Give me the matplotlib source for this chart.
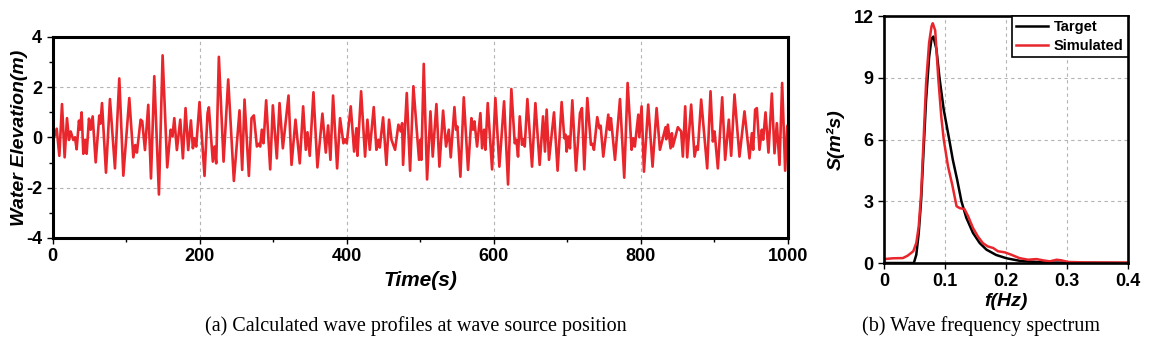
import matplotlib
matplotlib.use("Agg")
import matplotlib.pyplot as plt
from matplotlib.ticker import MultipleLocator

plt.rcParams["font.family"] = ["Liberation Sans", "DejaVu Sans"]
plt.rcParams["axes.unicode_minus"] = False

# (a) wave elevation at source, read as turning points of the trace
time_s = [
    0, 5.7, 9.3, 12.9, 16.5, 19.7, 22.4, 24.7, 28.3, 30.6, 32.8, 36.0, 37.4, 39.6, 41.9,
    44.6, 46.4, 49.6, 51.9, 54.6, 58.7, 63.6, 65.2, 67.3, 72.7, 78.1, 84.9, 90.8, 96.3,
    104.4, 109.9, 112.5, 114.8, 119.8, 122.0, 125.7, 130.2, 133.9, 138.4, 144.7, 149.7,
    156.0, 160.6, 163.1, 165.6,
    169.1, 173.7, 177.3, 180.9, 184.5, 188.2, 190.9, 192.7, 195.4, 199.9, 206.7, 210.8,
    212.6, 218.0, 220.3, 222.6, 226.2, 232.6, 238.9, 246.6, 254.3, 257.9, 261.1, 267.0,
    270.6, 273.8, 277.9, 280.6, 282.4, 284.6, 286.9, 290.5, 296.0, 299.6, 305.0, 308.7,
    313.2, 320.9, 325.0, 330.4,
    336.2, 340.8, 344.4, 346.7, 349.8, 354.8, 360.2, 367.0, 371.6, 374.7, 377.9, 381.5,
    387.0, 391.0, 395.6, 397.8, 400.1, 405.5, 410.1, 413.2, 414.6, 419.6, 425.0, 428.2,
    431.4, 436.8, 440.4, 443.1, 445.0, 449.5, 454.0, 457.6, 461.0, 465.8, 470.3, 473.5,
    475.4, 476.7, 481.7, 486.2, 490.7, 498.4,
    500.3, 501.6, 504.8, 509.3, 513.9, 517.0, 522.0, 526.1, 531.1, 535.1, 538.8, 541.5,
    546.5, 548.7, 550.5, 554.6, 559.2, 565.0, 569.6, 571.8, 573.7, 577.3, 581.8, 584.1,
    586.8, 588.6, 591.8, 597.7, 602.2, 607.6, 614.0, 619.4, 623.9, 628.5, 630.7, 633.0,
    635.3, 638.4, 640.2, 642.1, 645.7, 652.0, 656.6, 662.4, 667.0,
    669.6, 671.9, 675.1, 681.9, 686.8, 692.3, 695.9, 697.7, 699.1, 701.3, 703.6, 706.8,
    711.8, 717.2, 719.9, 723.1, 727.2, 732.1, 734.0, 736.2, 740.7, 743.5, 745.3, 748.9,
    755.7, 757.5, 759.3, 764.8, 771.6, 777.4, 782.0, 787.4, 789.6, 791.8, 796.5, 797.9,
    801.0, 804.2, 810.0, 815.9, 821.4, 825.9, 833.6,
    834.5, 836.7, 840.4, 842.2, 843.5, 850.3, 854.8, 857.1, 860.3, 863.0, 868.4, 873.0,
    875.7, 877.5, 882.0, 890.2, 894.7, 897.9, 900.2, 904.7, 910.6, 914.6, 919.6, 922.8,
    927.3, 934.1, 940.9, 947.7, 950.9, 952.7, 955.4, 957.7, 961.3, 964.5, 966.3, 969.5,
    973.5, 978.1, 981.7, 984.9, 988.5, 992.1, 996.2, 999.0, 1000,
]
elevation_m = [
    -0.2, 0.35, -0.73, 1.33, -0.79, 0.77, -0.1, 0.24, -0.1, 0.01, -0.47, 0.67, 0.31, 1.0, -0.65,
    -0.09, -0.65, 0.75, 0.31, 0.84, -0.99, 0.87, 0.55, 1.37, -1.4, 1.53, -1.23, 2.35, -1.52,
    1.57, -0.79, -0.3, -0.6, 0.71, 0.65, -0.5, 1.3, -1.63, 2.44, -2.27, 3.27,
    -1.19, 0.31, 0.04, 0.77,
    -0.5, 0.71, -0.83, 1.17, -0.5, 0.68, -0.43, -0.03, -0.36, 1.41, -1.53, 0.97,
    1.2, -0.96, -0.36, -1.03, 3.21, -0.96, 2.31, -1.73, 1.08, -1.29, 1.51, -1.53,
    0.77, 0.88, -0.36, -0.25, -0.36, 0.31, -0.23, 1.48, -1.27, 1.28, -0.83, 1.37,
    -0.43, 1.67, -1.09, 0.71,
    -1.03, 1.24, -0.49, 0.21, -0.73, 1.8, -1.19, 0.95, -0.6, 0.48, -0.89, 1.67,
    -1.23, 0.77, -0.23, -0.07, -0.23, 1.24, -0.56, 0.37, -0.73, 1.84, -0.76, 0.71,
    -0.49, 1.21, -0.49, -0.09, -0.4, 0.8, -1.09, 0.71, -0.1, -0.49, 0.51, 0.24,
    0.57, -1.09, 1.77, -1.32, 2.04, -0.89,
    -0.09, -0.89, 2.93, -1.67, 1.04, -0.76, 1.33, -1.16, 1.07, -0.36, 0.31, -0.79,
    1.21, 0.31, 0.44, -1.56, 1.6, -1.29, 0.77, 0.31, 0.64, -0.36, 0.97, -0.43,
    0.31, -0.49, 1.37, -1.27, 1.57, -1.16, 1.44, -1.87, 1.93, -0.23, -0.09, -0.76,
    0.84, -0.29, -0.07, -0.36, 1.53, -1.16, 1.37, -1.09, 0.84,
    -0.56, 1.11, -0.89, 1.0, -1.32, 1.41, -0.03, 0.11, -0.56, 0.04, -0.43, 1.48,
    -1.32, 0.97, 1.17, -1.27, 1.57, -0.29, -0.25, -0.49, 0.81, 0.37, 0.47, -0.76,
    0.91, 0.3, 0.77, -0.89, 1.53, -1.6, 2.17, -0.49, -0.03, -0.36, 0.91, 0.01,
    1.24, -1.36, 1.31, -1.16, 1.17, -0.49, 0.41,
    -0.07, 0.51, -0.43, 0.17, -0.36, 0.41, 0.24, -0.76, 1.24, -0.79, 1.31, -0.76,
    -0.36, -0.49, 1.51, -1.23, 1.84, -0.16, 0.24, -1.23, 1.6, -0.89, 0.71, -0.73,
    1.71, -0.76, 1.04, -0.83, 0.17, -0.49, 1.11, 1.17, -0.49, 0.31, -0.09, 1.0,
    -0.6, 1.75, -0.63, 0.57, -1.09, 2.17, -1.32, 0.44, 0.5,
]

# (b) wave frequency spectrum
freq_target = [0.0, 0.049, 0.053, 0.057, 0.061, 0.065, 0.069, 0.074, 0.078, 0.081, 0.086,
               0.091, 0.098, 0.107, 0.113, 0.120, 0.127, 0.135, 0.146, 0.157, 0.168,
               0.184, 0.201, 0.222, 0.250, 0.277, 0.4]
s_target = [0.0, 0.0, 0.4, 1.46, 3.07, 5.5, 7.9, 10.0, 10.9, 11.0, 10.4,
            9.0, 7.45, 6.0, 5.0, 4.05, 3.0, 2.2, 1.46, 0.97, 0.65,
            0.39, 0.23, 0.11, 0.05, 0.02, 0.0]

freq_sim = [0.0, 0.015, 0.031, 0.039, 0.048, 0.053, 0.057, 0.061, 0.065, 0.069, 0.074,
            0.078, 0.080, 0.084, 0.086, 0.089, 0.094, 0.098, 0.105, 0.112, 0.119,
            0.124, 0.132, 0.138, 0.146, 0.154, 0.162, 0.170, 0.179, 0.187, 0.198,
            0.209, 0.222, 0.236, 0.250, 0.261, 0.272, 0.283, 0.291, 0.302, 0.332, 0.4]
s_sim = [0.19, 0.23, 0.24, 0.36, 0.57, 0.97, 1.78, 3.4, 6.0, 8.7, 10.7,
         11.5, 11.65, 11.3, 10.4, 9.0, 7.1, 6.0, 4.7, 3.8, 2.76,
         2.67, 2.62, 2.27, 1.7, 1.29, 0.97, 0.81, 0.73, 0.57, 0.52,
         0.4, 0.24, 0.16, 0.19, 0.13, 0.08, 0.16, 0.13, 0.05, 0.03, 0.02]

RED = "#e8262c"
GRID = dict(color="#b4b4b4", linestyle=(0, (3, 3)), linewidth=0.8)

fig = plt.figure(figsize=(11.54, 3.52), dpi=100)

# ---- (a) time series
ax1 = fig.add_axes([0.0455, 0.3239, 0.6373, 0.571])
ax1.plot(time_s, elevation_m, color=RED, linewidth=1.9)
ax1.set_xlim(0, 1000)
ax1.set_ylim(-4, 4)
ax1.xaxis.set_major_locator(MultipleLocator(200))
ax1.xaxis.set_minor_locator(MultipleLocator(100))
ax1.yaxis.set_major_locator(MultipleLocator(2))
ax1.yaxis.set_minor_locator(MultipleLocator(1))
ax1.grid(True, which="major", **GRID)
ax1.tick_params(which="both", direction="out", top=False, right=False, width=1,
                labelsize=13)
ax1.tick_params(which="major", length=4)
ax1.tick_params(which="minor", length=3)
for lab in ax1.get_xticklabels() + ax1.get_yticklabels():
    lab.set_fontweight("bold")
for sp in ax1.spines.values():
    sp.set_linewidth(2.2)
ax1.set_xlabel("Time(s)", labelpad=4, fontsize=15, fontweight="bold", fontstyle="italic")
ax1.set_ylabel("Water Elevation(m)", fontsize=14, fontweight="bold", fontstyle="italic")
ax1.yaxis.set_label_coords(-0.034, 0.5)

# ---- (b) spectrum
ax2 = fig.add_axes([0.766, 0.2528, 0.2114, 0.7017])
ax2.plot(freq_target, s_target, color="black", linewidth=1.8, label="Target")
ax2.plot(freq_sim, s_sim, color=RED, linewidth=1.8, label="Simulated")
ax2.set_xlim(0, 0.4)
ax2.set_ylim(0, 12)
ax2.yaxis.set_major_locator(MultipleLocator(3))
ax2.set_xticks([0, 0.1, 0.2, 0.3, 0.4])
ax2.set_xticklabels(["0", "0.1", "0.2", "0.3", "0.4"])
ax2.grid(True, **GRID)
ax2.tick_params(direction="out", length=4, width=1, labelsize=13)
for lab in ax2.get_xticklabels() + ax2.get_yticklabels():
    lab.set_fontweight("bold")
for sp in ax2.spines.values():
    sp.set_linewidth(1.9)
ax2.set_xlabel("f(Hz)", labelpad=2, fontsize=14, fontweight="bold", fontstyle="italic")
ax2.set_ylabel("S(m²s)", labelpad=6, fontsize=14, fontweight="bold", fontstyle="italic")
leg = ax2.legend(loc="upper right", borderaxespad=0, fancybox=False, framealpha=1,
                 edgecolor="black", handlelength=2.2, handletextpad=0.4,
                 borderpad=0.3, labelspacing=0.3, prop=dict(size=10.5, weight="bold"))
leg.get_frame().set_linewidth(1.2)

# captions
fig.text(0.36, 0.075, "(a) Calculated wave profiles at wave source position",
         ha="center", va="center", family="Liberation Serif", fontsize=14.5)
fig.text(0.85, 0.075, "(b) Wave frequency spectrum",
         ha="center", va="center", family="Liberation Serif", fontsize=14.5)

fig.savefig("out.png", dpi=100)
